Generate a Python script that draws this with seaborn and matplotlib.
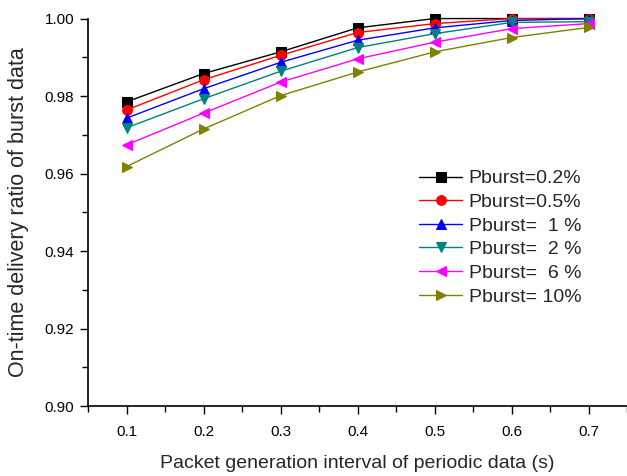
import matplotlib
matplotlib.use("Agg")
import matplotlib.pyplot as plt
import seaborn as sns
from matplotlib.ticker import MultipleLocator

# packet generation interval (s)
interval = [0.1, 0.2, 0.3, 0.4, 0.5, 0.6, 0.7]

# on-time delivery ratio for each burst probability
p_02 = [0.9785, 0.9858, 0.9914, 0.9976, 1.0000, 1.0000, 1.0000]
p_05 = [0.9764, 0.9842, 0.9905, 0.9964, 0.9987, 1.0000, 1.0000]
p_1 = [0.9743, 0.9819, 0.9887, 0.9944, 0.9976, 0.9995, 1.0000]
p_2 = [0.9718, 0.9793, 0.9864, 0.9925, 0.9961, 0.9990, 0.9992]
p_6 = [0.9674, 0.9756, 0.9836, 0.9896, 0.9939, 0.9974, 0.9987]
p_10 = [0.9618, 0.9715, 0.9801, 0.9862, 0.9914, 0.9951, 0.9977]

labels = ['Pburst=0.2%', 'Pburst=0.5%', 'Pburst=  1 %',
          'Pburst=  2 %', 'Pburst=  6 %', 'Pburst= 10%']

sns.set_style('ticks')
plt.rcParams['font.family'] = ['Liberation Sans', 'DejaVu Sans']

series = [p_02, p_05, p_1, p_2, p_6, p_10]
colors = ['black', 'red', 'blue', '#008080', '#ff00ff', '#808000']
markers = ['s', 'o', '^', 'v', '<', '>']

fig = plt.figure(figsize=(6.27, 4.76), dpi=100)
ax = fig.add_axes([0.1404, 0.147, 0.8596, 0.814])

for vals, lab, c, m in zip(series, labels, colors, markers):
    sns.lineplot(x=interval, y=vals, ax=ax, color=c, marker=m, markersize=7,
                 markeredgecolor=c, linewidth=1, label=lab, clip_on=False)

ax.set_xlim(0.05, 0.75)
ax.set_ylim(0.90, 1.00)
ax.set_yticks([0.90, 0.92, 0.94, 0.96, 0.98, 1.00])
ax.set_yticklabels(['0.90', '0.92', '0.94', '0.96', '0.98', '1.00'])
ax.set_xticks(interval)
ax.set_xticklabels(['0.1', '0.2', '0.3', '0.4', '0.5', '0.6', '0.7'])
ax.xaxis.set_minor_locator(MultipleLocator(0.05))
ax.yaxis.set_minor_locator(MultipleLocator(0.01))
ax.tick_params(which='major', direction='out', length=6, width=1, labelsize=11,
               colors='black')
ax.tick_params(axis='y', which='major', pad=4)
ax.tick_params(axis='x', which='major', pad=8)
ax.tick_params(which='minor', direction='out', length=4, width=1, colors='black')

for s in ['top', 'right']:
    ax.spines[s].set_visible(False)
for s in ['left', 'bottom']:
    ax.spines[s].set_linewidth(1.2)
    ax.spines[s].set_color('black')

ax.set_xlabel('Packet generation interval of periodic data (s)', fontsize=14, labelpad=11)
ax.set_ylabel('On-time delivery ratio of burst data', fontsize=15.5, labelpad=11)

ax.legend(loc='upper left', bbox_to_anchor=(0.6, 0.63), frameon=False, fontsize=14,
          handlelength=2.2, labelspacing=0.31, handletextpad=0.35, borderaxespad=0)

fig.savefig('out.png', dpi=100)
